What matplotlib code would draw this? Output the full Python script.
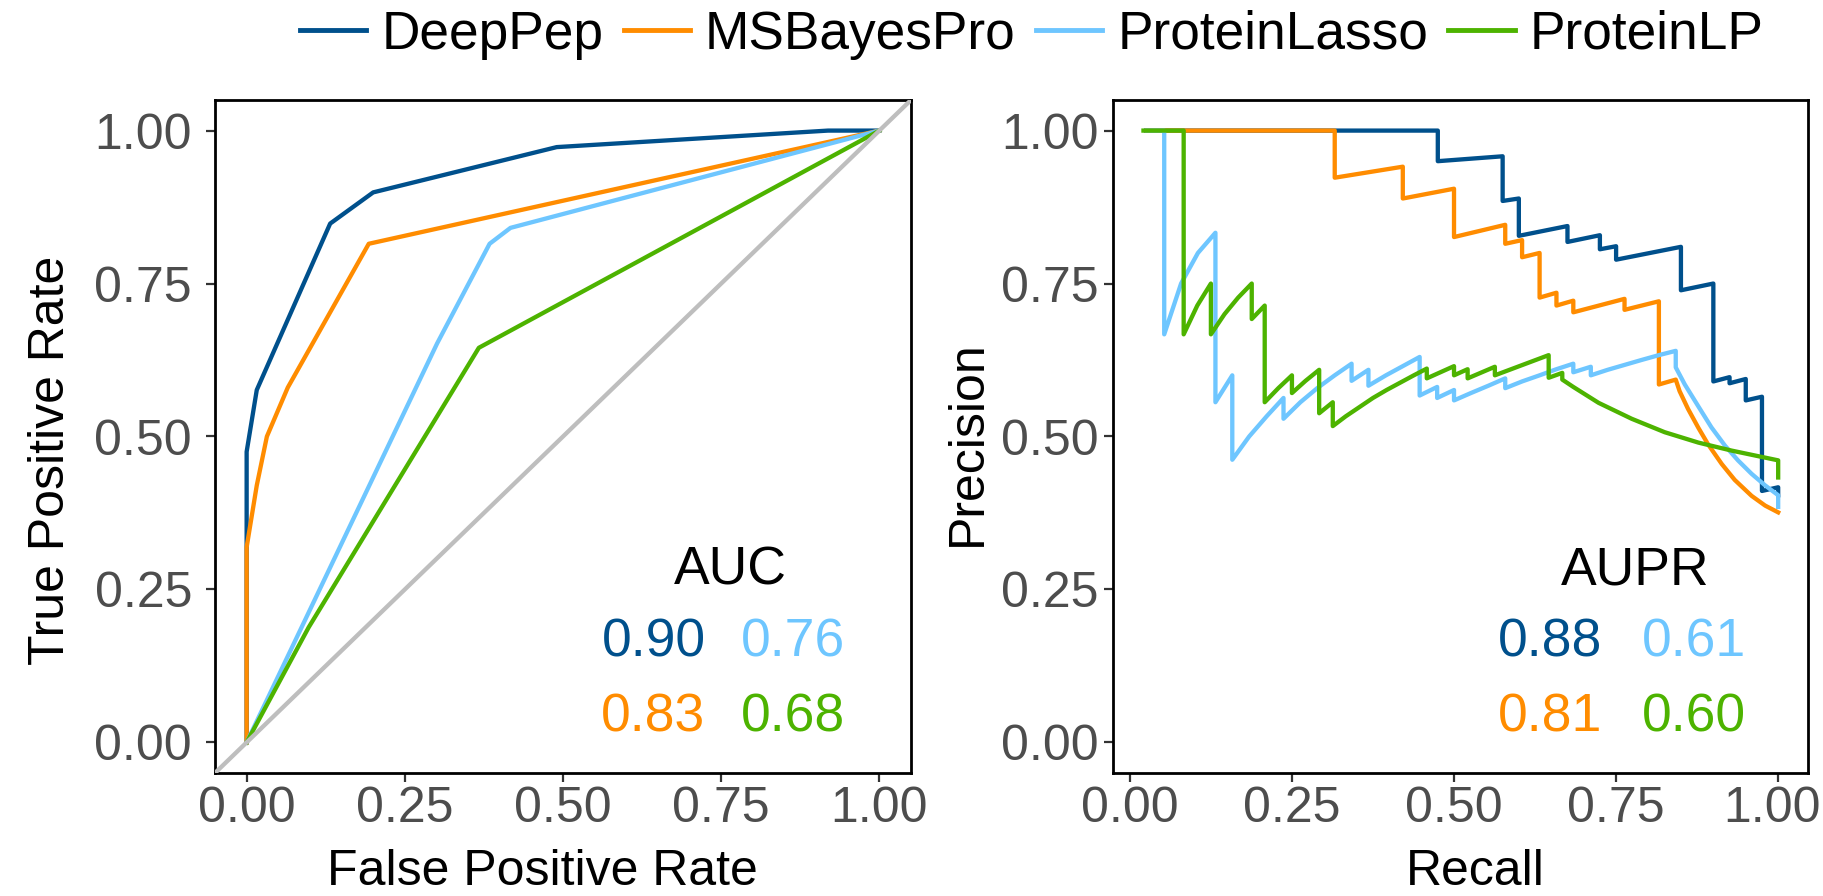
import matplotlib
matplotlib.use('Agg')
import matplotlib.pyplot as plt
import matplotlib.transforms as mtransforms
from matplotlib.lines import Line2D

plt.rcParams['font.family'] = ['Liberation Sans', 'DejaVu Sans']

methods = ['DeepPep', 'MSBayesPro', 'ProteinLasso', 'ProteinLP']
colors = ['#00508C', '#FF8C00', '#6EC6FF', '#4DB300']

# ---- ROC curves ----
roc_fpr_deeppep = [0.0, 0.0, 0.016, 0.132, 0.200, 0.490, 0.919, 1.0]
roc_tpr_deeppep = [0.0, 0.475, 0.576, 0.848, 0.899, 0.973, 1.0, 1.0]
roc_fpr_msbayespro = [0.0, 0.0, 0.016, 0.032, 0.065, 0.193, 1.0]
roc_tpr_msbayespro = [0.0, 0.319, 0.420, 0.500, 0.580, 0.815, 1.0]
roc_fpr_proteinlasso = [0.0, 0.301, 0.384, 0.417, 1.0]
roc_tpr_proteinlasso = [0.0, 0.652, 0.815, 0.841, 1.0]
roc_fpr_proteinlp = [0.0, 0.098, 0.367, 1.0]
roc_tpr_proteinlp = [0.0, 0.188, 0.645, 1.0]

# ---- Precision-recall curves ----
pr_recall_deeppep = [0.025, 0.475, 0.475, 0.575, 0.575, 0.600, 0.600, 0.675, 0.675, 0.725, 0.725,
                     0.750, 0.750, 0.850, 0.850, 0.900, 0.900, 0.925, 0.925, 0.950, 0.950, 0.975,
                     0.975, 1.000, 1.000]
pr_precision_deeppep = [1.000, 1.000, 0.950, 0.958, 0.885, 0.889, 0.828, 0.844, 0.818, 0.829, 0.806,
                        0.811, 0.789, 0.810, 0.739, 0.750, 0.590, 0.597, 0.587, 0.594, 0.559, 0.565,
                        0.411, 0.417, 0.404]

pr_recall_msbayespro = [0.026, 0.316, 0.316, 0.421, 0.421, 0.500, 0.500, 0.579, 0.579, 0.605, 0.605,
                        0.632, 0.632, 0.658, 0.658, 0.684, 0.684, 0.763, 0.763, 0.816, 0.816, 0.842,
                        0.848, 0.861, 0.877, 0.892, 0.913, 0.933, 0.959, 0.980, 1.000]
pr_precision_msbayespro = [1.000, 1.000, 0.923, 0.941, 0.889, 0.905, 0.826, 0.846, 0.815, 0.821, 0.793,
                           0.800, 0.727, 0.735, 0.714, 0.722, 0.703, 0.725, 0.707, 0.721, 0.585, 0.593,
                           0.574, 0.545, 0.514, 0.487, 0.455, 0.429, 0.403, 0.387, 0.376]

pr_recall_proteinlasso = [0.026, 0.053, 0.053, 0.079, 0.105, 0.132, 0.132, 0.158, 0.158, 0.184, 0.211,
                          0.237, 0.237, 0.263, 0.289, 0.316, 0.342, 0.342, 0.368, 0.368, 0.395, 0.421,
                          0.447, 0.447, 0.474, 0.474, 0.500, 0.500, 0.526, 0.553, 0.579, 0.579, 0.605,
                          0.632, 0.658, 0.684, 0.684, 0.711, 0.711, 0.737, 0.763, 0.789, 0.816, 0.842,
                          0.842, 0.856, 0.877, 0.897, 0.918, 0.938, 0.959, 0.980, 1.000, 1.000]
pr_precision_proteinlasso = [1.000, 1.000, 0.667, 0.750, 0.800, 0.833, 0.556, 0.600, 0.462, 0.500, 0.533,
                             0.563, 0.529, 0.556, 0.579, 0.600, 0.619, 0.591, 0.609, 0.583, 0.600, 0.615,
                             0.630, 0.567, 0.581, 0.563, 0.576, 0.559, 0.571, 0.583, 0.595, 0.579, 0.590,
                             0.600, 0.610, 0.619, 0.605, 0.614, 0.600, 0.609, 0.617, 0.625, 0.633, 0.640,
                             0.613, 0.585, 0.549, 0.515, 0.485, 0.461, 0.439, 0.420, 0.404, 0.385]

pr_recall_proteinlp = [0.021, 0.083, 0.083, 0.104, 0.125, 0.125, 0.146, 0.167, 0.188, 0.188, 0.208,
                       0.208, 0.229, 0.250, 0.250, 0.271, 0.292, 0.292, 0.313, 0.313, 0.333, 0.354,
                       0.375, 0.396, 0.417, 0.438, 0.458, 0.458, 0.500, 0.500, 0.521, 0.521, 0.563,
                       0.563, 0.646, 0.646, 0.667, 0.667, 0.684, 0.723, 0.774, 0.825, 0.877, 0.928,
                       1.000, 1.000]
pr_precision_proteinlp = [1.000, 1.000, 0.667, 0.714, 0.750, 0.667, 0.700, 0.727, 0.750, 0.692, 0.714,
                          0.556, 0.579, 0.600, 0.571, 0.591, 0.609, 0.538, 0.556, 0.517, 0.533, 0.548,
                          0.563, 0.576, 0.588, 0.600, 0.611, 0.595, 0.615, 0.600, 0.610, 0.595, 0.614,
                          0.600, 0.633, 0.596, 0.604, 0.593, 0.581, 0.555, 0.529, 0.507, 0.490, 0.477,
                          0.461, 0.433]

auc_values = ['0.90', '0.83', '0.76', '0.68']
aupr_values = ['0.88', '0.81', '0.61', '0.60']
tick_values = [0.0, 0.25, 0.5, 0.75, 1.0]
tick_labels = ['0.00', '0.25', '0.50', '0.75', '1.00']

roc_x = [roc_fpr_deeppep, roc_fpr_msbayespro, roc_fpr_proteinlasso, roc_fpr_proteinlp]
roc_y = [roc_tpr_deeppep, roc_tpr_msbayespro, roc_tpr_proteinlasso, roc_tpr_proteinlp]
pr_x = [pr_recall_deeppep, pr_recall_msbayespro, pr_recall_proteinlasso, pr_recall_proteinlp]
pr_y = [pr_precision_deeppep, pr_precision_msbayespro, pr_precision_proteinlasso, pr_precision_proteinlp]

W, H = 1823, 896
fig = plt.figure(figsize=(W / 100, H / 100), dpi=100)
ax1 = fig.add_axes([215 / W, 1 - 773 / H, 696 / W, 673 / H])
ax2 = fig.add_axes([1113 / W, 1 - 773 / H, 695 / W, 673 / H])

LW = 3.1
FS = 36

for xs, ys, c in zip(roc_x, roc_y, colors):
    ax1.plot(xs, ys, color=c, lw=LW, solid_joinstyle='round', zorder=2)
ax1.axline((0, 0), (1, 1), color='#BEBEBE', lw=LW, zorder=3)

for xs, ys, c in zip(pr_x, pr_y, colors):
    ax2.plot(xs, ys, color=c, lw=LW, solid_joinstyle='round', zorder=2)

ax1.set_xlim(-0.05, 1.05)
ax1.set_ylim(-0.05, 1.05)
ax2.set_xlim(-0.026, 1.046)
ax2.set_ylim(-0.05, 1.05)

for ax in (ax1, ax2):
    ax.set_xticks(tick_values)
    ax.set_xticklabels(tick_labels)
    ax.set_yticks(tick_values)
    ax.set_yticklabels(tick_labels)
    ax.tick_params(direction='out', length=6.5, width=1.6, color='#333333',
                   labelsize=FS, labelcolor='#4D4D4D', pad=3)
    for s in ax.spines.values():
        s.set_linewidth(2.0)
        s.set_color('black')
ax1.tick_params(axis='y', pad=10)
ax2.tick_params(axis='y', pad=4)

ax1.set_xlabel('False Positive Rate', fontsize=FS, va='baseline')
ax1.xaxis.set_label_coords(0.471, -0.166)
ax2.set_xlabel('Recall', fontsize=FS, va='baseline')
ax2.xaxis.set_label_coords(0.521, -0.166)
ax1.set_ylabel('True Positive Rate', fontsize=FS, va='center')
ax1.yaxis.set_label_coords(-0.235, 0.465)
ax2.set_ylabel('Precision', fontsize=FS, va='center')
ax2.yaxis.set_label_coords(-0.209, 0.49)

AFS = 38.5
ax1.text(0.765, 0.258, 'AUC', fontsize=AFS, ha='center', va='baseline', color='black')
ax1.text(0.643, 0.141, auc_values[0], fontsize=AFS, ha='center', va='baseline', color=colors[0])
ax1.text(0.864, 0.141, auc_values[2], fontsize=AFS, ha='center', va='baseline', color=colors[2])
ax1.text(0.643, 0.018, auc_values[1], fontsize=AFS, ha='center', va='baseline', color=colors[1])
ax1.text(0.864, 0.018, auc_values[3], fontsize=AFS, ha='center', va='baseline', color=colors[3])

ax2.text(0.780, 0.258, 'AUPR', fontsize=AFS, ha='center', va='baseline', color='black')
ax2.text(0.648, 0.141, aupr_values[0], fontsize=AFS, ha='center', va='baseline', color=colors[0])
ax2.text(0.870, 0.141, aupr_values[2], fontsize=AFS, ha='center', va='baseline', color=colors[2])
ax2.text(0.648, 0.018, aupr_values[1], fontsize=AFS, ha='center', va='baseline', color=colors[1])
ax2.text(0.870, 0.018, aupr_values[3], fontsize=AFS, ha='center', va='baseline', color=colors[3])

handles = [Line2D([0], [0], color=c, lw=LW + 0.4) for c in colors]
fig.legend(handles, methods, loc='center', bbox_to_anchor=(0.566, 0.961), ncol=4,
           frameon=False, fontsize=38.3, handlelength=1.25, handletextpad=0.28,
           columnspacing=0.38, borderaxespad=0)

# keep the last recall tick label inside the figure edge
fig.canvas.draw()
last_label = ax2.xaxis.get_major_ticks()[-1].label1
last_label.set_transform(last_label.get_transform() +
                         mtransforms.ScaledTranslation(-6 / 100, 0, fig.dpi_scale_trans))

fig.savefig('out.png', dpi=100)
